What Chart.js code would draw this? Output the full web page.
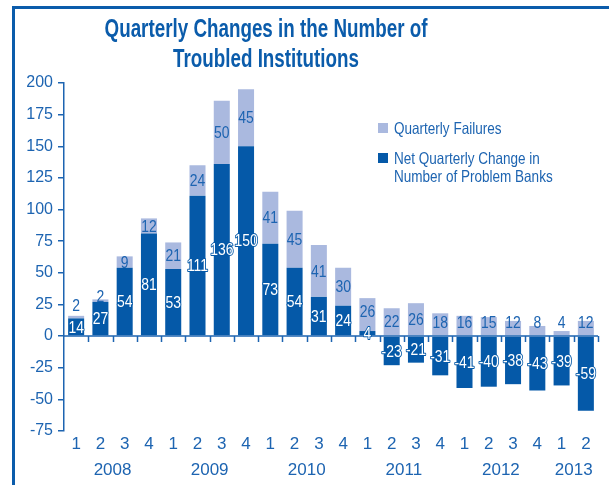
<!DOCTYPE html>
<html>
<head>
<meta charset="utf-8">
<script src="https://cdn.jsdelivr.net/npm/chart.js@4.4.1/dist/chart.umd.min.js"></script>
<style>
  html, body { margin: 0; padding: 0; background: #fff; }
  #wrap { position: relative; width: 609px; height: 485px; }
  #frame {
    position: absolute; left: 12px; top: 6px; right: 0; bottom: 0;
    border-left: 3px solid #0b5cab; border-top: 3px solid #0b5cab;
    pointer-events: none;
  }
</style>
</head>
<body>
<div id="wrap">
  <canvas id="troubledChart"></canvas>
  <div id="frame"></div>
</div>
<script>
const quarters = ["1","2","3","4","1","2","3","4","1","2","3","4","1","2","3","4","1","2","3","4","1","2"];
const years = ["2008","2009","2010","2011","2012","2013"];
const netChange = [14, 27, 54, 81, 53, 111, 136, 150, 73, 54, 31, 24, 4, -23, -21, -31, -41, -40, -38, -43, -39, -59];
const failures = [2, 2, 9, 12, 21, 24, 50, 45, 41, 45, 41, 30, 26, 22, 26, 18, 16, 15, 12, 8, 4, 12];
const yTicks = [-75, -50, -25, 0, 25, 50, 75, 100, 125, 150, 175, 200];

const darkBlue = "#0559a8";
const lightBlue = "#aab9df";
const textBlue = "#1d64b1";
const sans = "'Liberation Sans', Arial, sans-serif";

// draws text squeezed sideways, to look like a condensed face
function narrowText(ctx, text, x, y, squeeze, stroke) {
    ctx.save();
    ctx.translate(x, y);
    ctx.scale(squeeze, 1);
    if (stroke) ctx.strokeText(text, 0, 0);
    ctx.fillText(text, 0, 0);
    ctx.restore();
}

// title, legend, labels, zero line and year row
const extrasPlugin = {
    id: "extras",
    afterDraw(chart) {
        const ctx = chart.ctx;
        const area = chart.chartArea;
        const xs = chart.scales.x;
        const ys = chart.scales.y;
        const zeroY = ys.getPixelForValue(0);
        const step = xs.getPixelForValue(1) - xs.getPixelForValue(0);

        ctx.save();

        // title
        ctx.fillStyle = "#0b5cab";
        ctx.font = "bold 25px " + sans;
        ctx.textAlign = "center";
        ctx.textBaseline = "alphabetic";
        const titleSqueeze = 186 / ctx.measureText("Troubled Institutions").width;
        narrowText(ctx, "Quarterly Changes in the Number of", 266, 37, titleSqueeze);
        narrowText(ctx, "Troubled Institutions", 266, 67, titleSqueeze);

        // zero line with ticks
        ctx.strokeStyle = textBlue;
        ctx.lineWidth = 1.5;
        ctx.beginPath();
        ctx.moveTo(area.left, zeroY);
        ctx.lineTo(area.right, zeroY);
        for (let i = 0; i < quarters.length; i++) {
            const bx = Math.round(xs.getPixelForValue(i) + step / 2) + 0.5;
            ctx.moveTo(bx, zeroY);
            ctx.lineTo(bx, zeroY + 6);
        }
        ctx.stroke();

        // years
        ctx.fillStyle = textBlue;
        ctx.font = "17px " + sans;
        ctx.textBaseline = "middle";
        years.forEach((yr, k) => {
            const first = k * 4;
            const last = Math.min(k * 4 + 3, quarters.length - 1);
            const x = (xs.getPixelForValue(first) + xs.getPixelForValue(last)) / 2;
            ctx.fillText(yr, x, 470);
        });

        // bar labels
        const netMeta = chart.getDatasetMeta(0);
        const failMeta = chart.getDatasetMeta(1);
        ctx.font = "17px " + sans;
        ctx.textAlign = "center";
        ctx.textBaseline = "middle";
        const netY = [];
        netMeta.data.forEach((bar, i) => {
            const y = (bar.y + bar.base) / 2 + 1;
            netY.push(y);
            ctx.lineWidth = 2;
            ctx.lineJoin = "round";
            ctx.strokeStyle = darkBlue;
            ctx.fillStyle = "#ffffff";
            narrowText(ctx, String(netChange[i]), bar.x, y, 0.82, true);
        });
        failMeta.data.forEach((bar, i) => {
            const center = (bar.y + bar.base) / 2 + 1;
            let y = Math.min(center, zeroY - 13);
            if (netChange[i] > 0) y = Math.min(y, netY[i] - 22);
            ctx.fillStyle = textBlue;
            narrowText(ctx, String(failures[i]), bar.x, y, 0.82);
        });

        // legend
        const lx = 378;
        ctx.textAlign = "left";
        ctx.font = "16.5px " + sans;
        ctx.fillStyle = lightBlue;
        ctx.fillRect(lx, 123, 10, 10);
        ctx.fillStyle = darkBlue;
        ctx.fillRect(lx, 153, 10, 10);
        ctx.fillStyle = textBlue;
        narrowText(ctx, "Quarterly Failures", lx + 16, 129, 0.82);
        narrowText(ctx, "Net Quarterly Change in", lx + 16, 159, 0.82);
        narrowText(ctx, "Number of Problem Banks", lx + 16, 177, 0.82);

        ctx.restore();
    }
};

const ctx = document.getElementById("troubledChart").getContext("2d");

new Chart(ctx, {
    type: "bar",
    data: {
        labels: quarters,
        datasets: [
            {
                label: "Net Quarterly Change in Number of Problem Banks",
                data: netChange,
                backgroundColor: darkBlue,
                barPercentage: 0.66,
                categoryPercentage: 1
            },
            {
                label: "Quarterly Failures",
                data: failures,
                backgroundColor: lightBlue,
                barPercentage: 0.66,
                categoryPercentage: 1
            }
        ]
    },
    options: {
        responsive: true,
        maintainAspectRatio: false,
        animation: false,
        layout: { padding: { top: 83, left: 0, right: 11, bottom: 0 } },
        plugins: {
            legend: { display: false },
            title: { display: false },
            tooltip: { enabled: false }
        },
        scales: {
            x: {
                stacked: true,
                border: { display: false },
                grid: { display: false, drawTicks: false },
                ticks: {
                    color: textBlue,
                    padding: 3,
                    maxRotation: 0,
                    autoSkip: false,
                    font: { family: sans, size: 17 }
                },
                afterFit(scale) { scale.height = 54; }
            },
            y: {
                stacked: true,
                min: -75,
                max: 200,
                afterBuildTicks(scale) { scale.ticks = yTicks.map(v => ({ value: v })); },
                border: { display: true, color: textBlue, width: 1.5 },
                grid: { drawOnChartArea: false, color: textBlue, tickLength: 6, lineWidth: 1.5 },
                ticks: {
                    color: textBlue,
                    padding: 5,
                    font: { family: sans, size: 16 }
                },
                afterFit(scale) { scale.width = 64; }
            }
        }
    },
    plugins: [extrasPlugin]
});
</script>
</body>
</html>
